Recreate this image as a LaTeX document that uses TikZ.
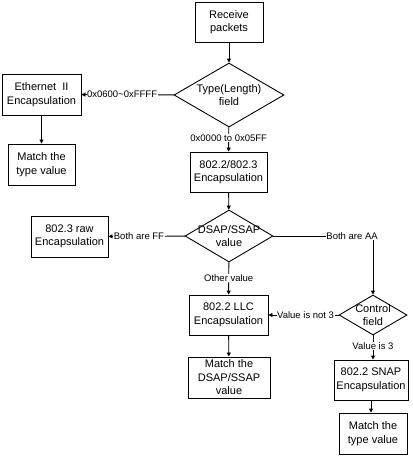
\documentclass[tikz,border=0pt]{standalone}
\usepackage{fontspec}
\setmainfont{Liberation Sans}
\usetikzlibrary{shapes.geometric,arrows.meta}
\begin{document}
\begin{tikzpicture}[x=1pt,y=-1pt,
  box/.style={draw,line width=0.9pt,minimum width=#1,minimum height=40pt,inner sep=1pt,align=center,font=\fontsize{11}{13.5}\selectfont},
  box/.default=68pt,
  dia/.style={draw,diamond,line width=0.9pt,inner sep=0pt},
  dtext/.style={align=center,inner sep=0pt,font=\fontsize{11}{13.5}\selectfont},
  lbl/.style={fill=white,inner sep=0.5pt,font=\fontsize{9.5}{11}\selectfont},
  arr/.style={draw,line width=0.9pt,-{Triangle[length=4pt,width=4pt]}}]
\useasboundingbox (0,0) rectangle (413,456);
\node[box=68pt] (rcv) at (229,22) {Receive\\packets};
\node[dia,minimum width=110pt,minimum height=64pt,label={[dtext]center:Type(Length)\\field}] (typ) at (229,95) {};
\node[box=79pt,minimum height=41pt] (eth) at (41.5,94.5) {Ethernet\ \ II\\Encapsulation};
\node[box=67pt,minimum height=41pt] (mt1) at (41.5,164.5) {Match the\\type value};
\node[box=77pt] (e23) at (228.5,172) {802.2/802.3\\Encapsulation};
\node[dia,minimum width=88pt,minimum height=52pt,label={[dtext]center:DSAP/SSAP\\value}] (dsap) at (229,236) {};
\node[box=77pt,minimum height=41pt] (raw) at (69.5,236.5) {802.3 raw\\Encapsulation};
\node[box=79pt] (llc) at (228.5,315) {802.2 LLC\\Encapsulation};
\node[dia,minimum width=68pt,minimum height=40pt,label={[dtext]center:Control\\field}] (ctl) at (373,315) {};
\node[box=82pt,minimum height=41pt] (mds) at (229,377.5) {Match the\\DSAP/SSAP\\value};
\node[box=74pt] (snap) at (371,380) {802.2 SNAP\\Encapsulation};
\node[box=68pt,minimum height=41pt] (mt2) at (373,433.5) {Match the\\type value};
\draw[arr] (rcv) -- (typ);
\draw[arr] (typ) -- node[lbl,pos=0.56]{0x0600\textasciitilde0xFFFF} (eth);
\draw[arr] (eth) -- (mt1);
\draw[arr] (typ) -- node[lbl,pos=0.45]{0x0000 to 0x05FF} (e23);
\draw[arr] (e23) -- (dsap);
\draw[arr] (dsap) -- node[lbl,pos=0.6]{Both are FF} (raw);
\draw[arr] (dsap) -- node[lbl,pos=0.48]{Other value} (llc);
\draw[arr] (dsap.east) -| node[lbl,pos=0.395]{Both are AA} (ctl.north);
\draw[arr] (ctl) -- node[lbl,pos=0.47]{Value is not 3} (llc);
\draw[arr] (llc) -- (mds);
\draw[arr] (ctl) -- node[lbl,pos=0.45]{Value is 3} (ctl |- snap.north);
\draw[arr] (snap) -- (snap |- mt2.north);
\end{tikzpicture}
\end{document}
